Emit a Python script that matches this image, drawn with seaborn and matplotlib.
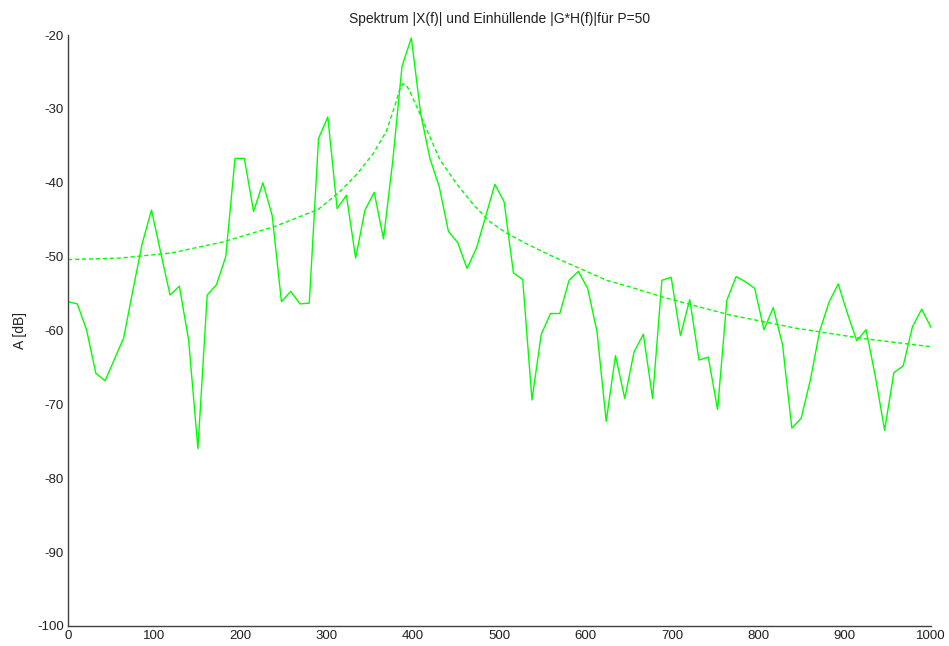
import numpy as np
import pandas as pd
import matplotlib
matplotlib.use("Agg")
import matplotlib.pyplot as plt
import seaborn as sns

# Spectrum |X(f)| in dB, 94 bins from 0 to 1000 Hz
freq = np.linspace(0, 1000, 94)
spectrum_db = [
    -56.1, -56.4, -59.9, -65.8, -66.8, -63.9, -61.0, -54.5, -48.2, -43.7,
    -49.5, -55.2, -54.0, -61.3, -76.0, -55.2, -53.8, -50.0, -36.7, -36.7,
    -43.9, -40.0, -44.4, -56.1, -54.7, -56.4, -56.3, -34.0, -31.1, -43.5,
    -41.7, -50.2, -43.7, -41.3, -47.6, -37.0, -24.2, -20.4, -30.6, -36.7,
    -40.5, -46.6, -48.1, -51.6, -48.9, -44.6, -40.2, -42.6, -52.2, -53.1,
    -69.4, -60.5, -57.7, -57.7, -53.2, -52.0, -54.3, -60.1, -72.3, -63.4,
    -69.2, -62.9, -60.5, -69.2, -53.2, -52.8, -60.7, -55.8, -64.0, -63.6,
    -70.7, -55.9, -52.7, -53.4, -54.3, -59.9, -56.9, -61.9, -73.2, -71.9,
    -66.7, -60.1, -56.2, -53.7, -57.7, -61.4, -59.9, -66.2, -73.5, -65.7,
    -64.8, -59.5, -57.1, -59.6,
]

# Envelope |G*H(f)| in dB (read at selected frequencies)
env_freq = [0, 60, 120, 180, 240, 290, 315, 335, 354, 369, 379, 384, 388,
            392, 396, 404, 416, 431, 450, 470, 489, 508, 532, 562, 593, 624,
            651, 690, 728, 767, 806, 844, 883, 922, 1000]
env_db = [-50.4, -50.2, -49.5, -48.0, -45.9, -43.6, -41.2, -38.8, -36.0,
          -33.0, -29.5, -27.5, -26.6, -26.8, -27.6, -29.7, -32.9, -36.9,
          -40.1, -43.0, -45.3, -46.8, -48.3, -50.0, -51.6, -53.2, -54.1,
          -55.5, -56.7, -57.9, -58.8, -59.7, -60.4, -61.1, -62.2]

x_ticks = [0, 100, 200, 300, 400, 500, 600, 700, 800, 900, 1000]
y_ticks = [-100, -90, -80, -70, -60, -50, -40, -30, -20]

sns.set_style("white")
plt.rcParams['font.family'] = ['Liberation Sans', 'DejaVu Sans']
plt.rcParams['axes.unicode_minus'] = False

fig = plt.figure(figsize=(9.49, 6.46), dpi=100)
ax = fig.add_axes([68/949, 1-626/646, (931-68)/949, (626-35)/646])

df_spec = pd.DataFrame({"f": freq, "A": spectrum_db})
df_env = pd.DataFrame({"f": env_freq, "A": env_db})

sns.lineplot(data=df_spec, x="f", y="A", ax=ax, color="#00ff00", lw=1.0)
sns.lineplot(data=df_env, x="f", y="A", ax=ax, color="#00ff00", lw=1.0,
             linestyle=(0, (3, 2)))

ax.set_xlim(0, 1000)
ax.set_ylim(-100, -20)
ax.set_xticks(x_ticks)
ax.set_yticks(y_ticks)
ax.tick_params(direction="in", length=6, width=1, colors="#404040",
               labelsize=9.5, labelcolor="#202020", pad=3)
for s in ["top", "right"]:
    ax.spines[s].set_visible(False)
for s in ["left", "bottom"]:
    ax.spines[s].set_color("#404040")
    ax.spines[s].set_linewidth(1)

ax.set_xlabel("")
ax.set_ylabel("A [dB]", fontsize=10, labelpad=7, color="#202020")
ax.set_title("Spektrum |X(f)| und Einhüllende |G*H(f)|für P=50", fontsize=10,
             pad=9, color="#202020")

fig.savefig("out.png", dpi=100)
